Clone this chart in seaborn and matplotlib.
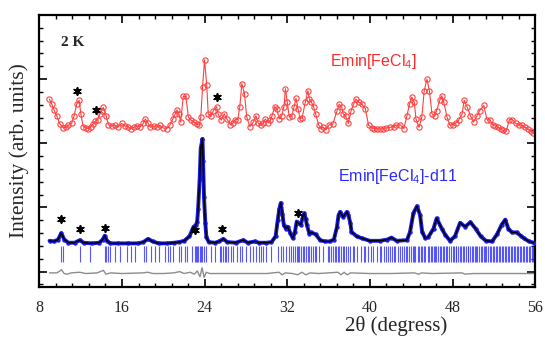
import numpy as np
import pandas as pd
import matplotlib
matplotlib.use("Agg")
import matplotlib.pyplot as plt
from matplotlib.ticker import MultipleLocator
import seaborn as sns

# ---------------- data ----------------
red_x = [8.97, 9.2, 9.42, 9.68, 10.0, 10.32, 10.62, 10.82, 11.12, 11.37, 11.62, 11.85, 12.02,
         12.25, 12.49, 12.74, 12.99, 13.19, 13.39, 13.64, 13.84, 14.04, 14.19, 14.46, 14.69,
         14.99, 15.29, 15.59, 15.99, 16.26, 16.56, 16.86, 17.16, 17.46, 17.76, 18.06, 18.26,
         18.51, 18.76, 19.06, 19.36, 19.66, 19.96, 20.33, 20.63, 20.93, 21.13, 21.33, 21.53,
         21.68, 21.93, 22.18, 22.43, 22.68, 22.93, 23.23, 23.48, 23.63, 23.8, 23.99, 24.2,
         24.35, 24.6, 24.85, 25.17, 25.3, 25.6, 25.9, 26.15, 26.5, 26.75, 26.95, 27.2, 27.4,
         27.6, 27.86, 28.07, 28.37, 28.71, 28.97, 29.17, 29.47, 29.67, 29.87, 30.17, 30.37,
         30.52, 30.77, 30.97, 31.22, 31.47, 31.67, 31.82, 32.0, 32.19, 32.44, 32.64, 32.84,
         33.04, 33.24, 33.44, 33.74, 33.99, 34.14, 34.34, 34.54, 34.74, 35.04, 35.29, 35.49,
         35.74, 36.06, 36.41, 36.81, 37.01, 37.26, 37.41, 37.66, 37.91, 38.18, 38.41, 38.64,
         38.91, 39.21, 39.55, 39.87, 40.18, 40.43, 40.68, 40.98, 41.28, 41.58, 41.98, 42.28,
         42.54, 42.93, 43.28, 43.58, 43.84, 44.05, 44.29, 44.45, 44.75, 45.02, 45.25, 45.51,
         45.75, 46.0, 46.25, 46.45, 46.75, 46.95, 47.15, 47.45, 47.75, 48.02, 48.32, 48.57,
         48.92, 49.12, 49.42, 49.72, 50.02, 50.32, 50.62, 51.02, 51.32, 51.62, 51.92, 52.14,
         52.39, 52.64, 52.89, 53.19, 53.49, 53.79, 54.09, 54.39, 54.69, 54.99, 55.29, 55.59,
         55.79]
red_y = [2.69, 2.61, 2.52, 2.43, 2.30, 2.24, 2.25, 2.28, 2.31, 2.43, 2.61, 2.67, 2.46,
         2.26, 2.24, 2.23, 2.26, 2.30, 2.34, 2.37, 2.45, 2.51, 2.56, 2.43, 2.29,
         2.27, 2.28, 2.25, 2.31, 2.27, 2.26, 2.23, 2.25, 2.27, 2.26, 2.31, 2.38,
         2.32, 2.25, 2.27, 2.25, 2.28, 2.24, 2.23, 2.28, 2.38, 2.45, 2.52, 2.45,
         2.33, 2.73, 2.73, 2.41, 2.36, 2.33, 2.30, 2.28, 2.41, 2.88, 3.30, 2.91,
         2.46, 2.42, 2.51, 2.57, 2.46, 2.36, 2.46, 2.38, 2.29, 2.32, 2.37, 2.37, 2.56,
         2.93, 2.77, 2.41, 2.26, 2.33, 2.43, 2.32, 2.28, 2.31, 2.38, 2.32, 2.36,
         2.43, 2.57, 2.54, 2.38, 2.43, 2.57, 2.85, 2.64, 2.41, 2.43, 2.56, 2.70,
         2.54, 2.38, 2.40, 2.64, 2.82, 2.69, 2.64, 2.57, 2.46, 2.28, 2.23, 2.25,
         2.21, 2.29, 2.30, 2.51, 2.61, 2.57, 2.46, 2.42, 2.31, 2.51, 2.61, 2.69,
         2.64, 2.61, 2.54, 2.28, 2.24, 2.23, 2.23, 2.22, 2.23, 2.24, 2.25, 2.26,
         2.28, 2.29, 2.23, 2.43, 2.62, 2.72, 2.64, 2.38, 2.25, 2.41, 2.82, 3.00,
         2.82, 2.46, 2.43, 2.51, 2.67, 2.74, 2.64, 2.41, 2.28, 2.29, 2.32, 2.36,
         2.46, 2.67, 2.56, 2.43, 2.33, 2.42, 2.51, 2.59, 2.37, 2.36, 2.28, 2.27,
         2.25, 2.22, 2.20, 2.19, 2.37, 2.37, 2.31, 2.29, 2.28, 2.25, 2.22, 2.19,
         2.16]

blue_x = [8.99, 9.42, 9.82, 10.12, 10.42, 10.82, 11.42, 11.92, 12.29, 13.09, 13.79, 14.14,
          14.33, 14.54, 14.89, 15.59, 16.56, 17.56, 18.06, 18.53, 18.96, 19.56, 20.33, 21.03,
          21.53, 22.03, 22.53, 22.93, 23.13, 23.28, 23.37, 23.52, 23.62, 23.79, 23.85, 23.94,
          24.07, 24.17, 24.4, 25.0, 25.4, 25.8, 26.2, 27.0, 27.74, 28.17, 28.87, 29.27, 29.97,
          30.47, 30.87, 31.07, 31.22, 31.37, 31.52, 31.67, 31.87, 32.04, 32.29, 32.54, 32.74,
          32.91, 33.09, 33.31, 33.54, 33.64, 33.79, 33.89, 34.14, 34.34, 34.74, 35.19, 35.64,
          36.11, 36.51, 36.81, 36.96, 37.11, 37.41, 37.76, 37.91, 38.11, 38.21, 38.71, 39.21,
          39.98, 40.98, 41.68, 42.08, 42.58, 43.58, 43.88, 44.2, 44.55, 44.85, 45.05, 45.35,
          45.65, 46.15, 46.45, 46.95, 47.3, 47.75, 48.22, 48.72, 49.22, 49.72, 50.22, 50.72,
          51.22, 51.82, 52.29, 52.74, 53.09, 53.39, 53.74, 54.19, 54.59, 54.89, 55.39, 55.84]
blue_y = [0.48, 0.47, 0.50, 0.60, 0.50, 0.45, 0.45, 0.49, 0.45, 0.44, 0.45, 0.50,
          0.56, 0.48, 0.44, 0.44, 0.44, 0.44, 0.46, 0.51, 0.47, 0.44, 0.44, 0.45,
          0.46, 0.48, 0.55, 0.70, 0.72, 0.78, 0.98, 1.45, 1.92, 2.07, 1.73, 1.16,
          0.75, 0.54, 0.46, 0.45, 0.47, 0.51, 0.46, 0.45, 0.49, 0.45, 0.47, 0.45, 0.45,
          0.46, 0.55, 0.80, 0.97, 1.07, 0.90, 0.72, 0.67, 0.70, 0.60, 0.52, 0.62,
          0.78, 0.75, 0.73, 0.88, 0.91, 0.82, 0.73, 0.59, 0.61, 0.58, 0.49, 0.47,
          0.47, 0.50, 0.70, 0.88, 0.93, 0.85, 0.93, 0.88, 0.75, 0.62, 0.55, 0.52,
          0.48, 0.48, 0.50, 0.53, 0.48, 0.49, 0.62, 0.91, 1.02, 0.88, 0.62, 0.52,
          0.54, 0.67, 0.83, 0.67, 0.57, 0.48, 0.55, 0.76, 0.70, 0.77, 0.67, 0.55,
          0.48, 0.47, 0.58, 0.73, 0.81, 0.67, 0.61, 0.61, 0.56, 0.52, 0.47, 0.45]

diff_x = [8.99, 9.7, 10.0, 10.15, 10.4, 10.7, 11.1, 11.9, 12.5, 13.6, 14.2, 14.45, 14.9,
          16.0, 18.0, 18.5, 19.0, 20.0, 21.0, 21.6, 22.0, 22.6, 23.0, 23.3, 23.55, 23.75,
          23.95, 24.15, 24.5, 26.0, 28.0, 30.0, 31.2, 31.5, 31.8, 32.5, 33.0, 33.4, 33.8,
          34.2, 35.0, 36.9, 37.2, 37.5, 37.8, 38.1, 40.0, 42.0, 44.3, 44.7, 45.0, 46.0,
          48.9, 49.2, 50.0, 53.0, 55.8]
diff_y = [-0.02, -0.02, 0.01, 0.03, -0.03, -0.04, -0.02, -0.01, -0.03, -0.02, 0.02, -0.04, -0.02,
          -0.03, -0.02, -0.01, -0.03, -0.03, -0.02, 0.0, -0.03, -0.01, -0.04, 0.01, -0.08, 0.06,
          -0.09, -0.01, -0.03, -0.03, -0.03, -0.03, -0.01, -0.05, -0.02, -0.03, -0.05, -0.01, -0.05,
          -0.02, -0.03, -0.01, -0.05, -0.01, -0.05, -0.02, -0.03, -0.03, -0.02, -0.04, -0.02, -0.03,
          -0.02, -0.04, -0.03, -0.03, -0.03]

bragg_pos = [10.12, 10.3, 11.92, 12.94, 14.33, 14.5, 14.66, 14.82, 15.3, 15.78, 16.52, 16.9,
             17.24, 18.14, 18.36, 18.84, 19.24, 19.63, 20.14, 20.46, 20.68, 20.94, 21.53, 21.75,
             22.08, 22.3, 22.81, 23.04, 23.14, 23.27, 23.39, 23.53, 23.68, 23.78, 23.91, 24.11,
             24.65, 24.98, 25.46, 25.62, 25.78, 25.95, 26.1, 26.27, 26.59, 26.75, 27.14, 27.4,
             27.65, 28.04, 28.43, 28.69, 29.01, 29.27, 29.49, 29.66, 29.97, 30.46, 31.11, 31.43,
             31.59, 31.91, 32.17, 32.39, 32.58, 32.7, 32.93, 33.08, 33.16, 33.35, 33.52, 33.61,
             33.83, 34.02, 34.11, 34.3, 34.47, 34.66, 34.79, 35.07, 35.41, 35.9, 36.08, 36.2,
             36.44, 36.57, 36.7, 36.93, 37.0, 37.22, 37.37, 37.49, 37.71, 37.84, 38.02, 38.33,
             38.5, 38.77, 39.12, 39.4, 39.55, 39.82, 40.06, 40.31, 40.7, 40.94, 41.05, 41.33,
             41.52, 41.78, 41.9, 42.13, 42.31, 42.44, 42.72, 42.88, 43.1, 43.27, 43.46, 43.63,
             43.8, 43.97, 44.12, 44.26, 44.4, 44.61, 44.75, 44.93, 45.06, 45.22, 45.34, 45.57,
             45.7, 45.88, 46.02, 46.16, 46.33, 46.41, 46.62, 46.78, 46.86, 47.04, 47.21, 47.38,
             47.47, 47.69, 47.83, 48.0, 48.14, 48.29, 48.37, 48.55, 48.7, 48.81, 48.99, 49.13,
             49.26, 49.44, 49.51, 49.68, 49.85, 49.97, 50.12, 50.3, 50.38, 50.57, 50.74, 50.83,
             51.02, 51.17, 51.26, 51.45, 51.6, 51.71, 51.88, 52.05, 52.16, 52.33, 52.49, 52.57,
             52.78, 52.92, 53.03, 53.2, 53.34, 53.46, 53.65, 53.77, 53.9, 54.08, 54.21, 54.35,
             54.5, 54.61, 54.8, 54.94, 55.06, 55.23, 55.37, 55.5, 55.66, 55.8]

star_red_x = [11.68, 13.49, 25.17]
star_red_y = [2.81, 2.52, 2.72]
star_blue_x = [10.13, 11.91, 14.33, 23.07, 25.72, 33.07]
star_blue_y = [0.82, 0.66, 0.68, 0.65, 0.67, 0.92]

x_ticks = [8, 16, 24, 32, 40, 48, 56]

# ---------------- style ----------------
sns.set_style("ticks")
plt.rcParams["font.family"] = ["Liberation Serif", "DejaVu Serif"]
plt.rcParams["mathtext.fontset"] = "custom"
plt.rcParams["mathtext.rm"] = "Liberation Sans"

fig = plt.figure(figsize=(5.45, 3.37), dpi=100)
ax = fig.add_axes([39.3 / 545, 50 / 337, 496 / 545, 272 / 337])

# red observed pattern (upper)
sns.lineplot(x=red_x, y=red_y, ax=ax, sort=False, estimator=None, color="#ff4040",
             lw=0.8, marker="o", markersize=3.8, markerfacecolor="none",
             markeredgecolor="#ff4040", markeredgewidth=0.8, legend=False)

# blue observed pattern + fit
sns.lineplot(x=blue_x, y=blue_y, ax=ax, sort=False, estimator=None, color="#1a1aee",
             lw=2.8, legend=False)
sns.scatterplot(x=blue_x, y=blue_y, ax=ax, color="#1a1aff", s=10, linewidth=0, zorder=3,
                legend=False)
sns.lineplot(x=blue_x, y=blue_y, ax=ax, sort=False, estimator=None, color="black",
             lw=1.1, legend=False, zorder=4)

# Bragg positions
ax.vlines(bragg_pos, 0.145, 0.40, colors="#3a3aff", lw=0.8, alpha=0.85)

# difference curve
sns.lineplot(x=diff_x, y=diff_y, ax=ax, sort=False, estimator=None, color="#8c8c8c",
             lw=1.0, legend=False)

# asterisks
ax.scatter(star_red_x, star_red_y, marker=(6, 2, 0), s=26, color="black", lw=1.3, zorder=5)
ax.scatter(star_blue_x, star_blue_y, marker=(6, 2, 0), s=26, color="black", lw=1.3, zorder=5)

# texts
ax.text(40.3, 3.28, "Emin[FeCl$_\\mathregular{4}$]", color="#ff2a2a", fontsize=11.5,
        family="Liberation Sans", ha="center", va="center")
ax.text(42.68, 1.48, "Emin[FeCl$_\\mathregular{4}$]-d11", color="#2a2aff", fontsize=11.5,
        family="Liberation Sans", ha="center", va="center")
ax.text(10.07, 3.57, "2 K", fontsize=11, fontweight="bold", ha="left", va="center")

# axes
ax.set_xlim(8, 56)
ax.set_ylim(-0.24, 4.0)
ax.set_xticks(x_ticks)
ax.xaxis.set_minor_locator(MultipleLocator(1.6))
ax.yaxis.set_major_locator(MultipleLocator(1.0))
ax.yaxis.set_minor_locator(MultipleLocator(0.2))
ax.set_yticklabels([])
ax.tick_params(which="both", direction="in", top=True, right=True, color="black")
ax.tick_params(which="major", length=5.5, width=1.2, labelsize=11.5, pad=9.5)
ax.tick_params(which="minor", length=3, width=1.0)
for sp in ax.spines.values():
    sp.set_linewidth(1.6)
    sp.set_color("black")

ax.set_xlabel("2θ (degress)", fontsize=15)
ax.xaxis.set_label_coords(0.72, -0.105)
ax.set_ylabel("Intensity (arb. units)", fontsize=15.5)
ax.yaxis.set_label_coords(-0.02, 0.5)

fig.savefig("out.png", dpi=100)
